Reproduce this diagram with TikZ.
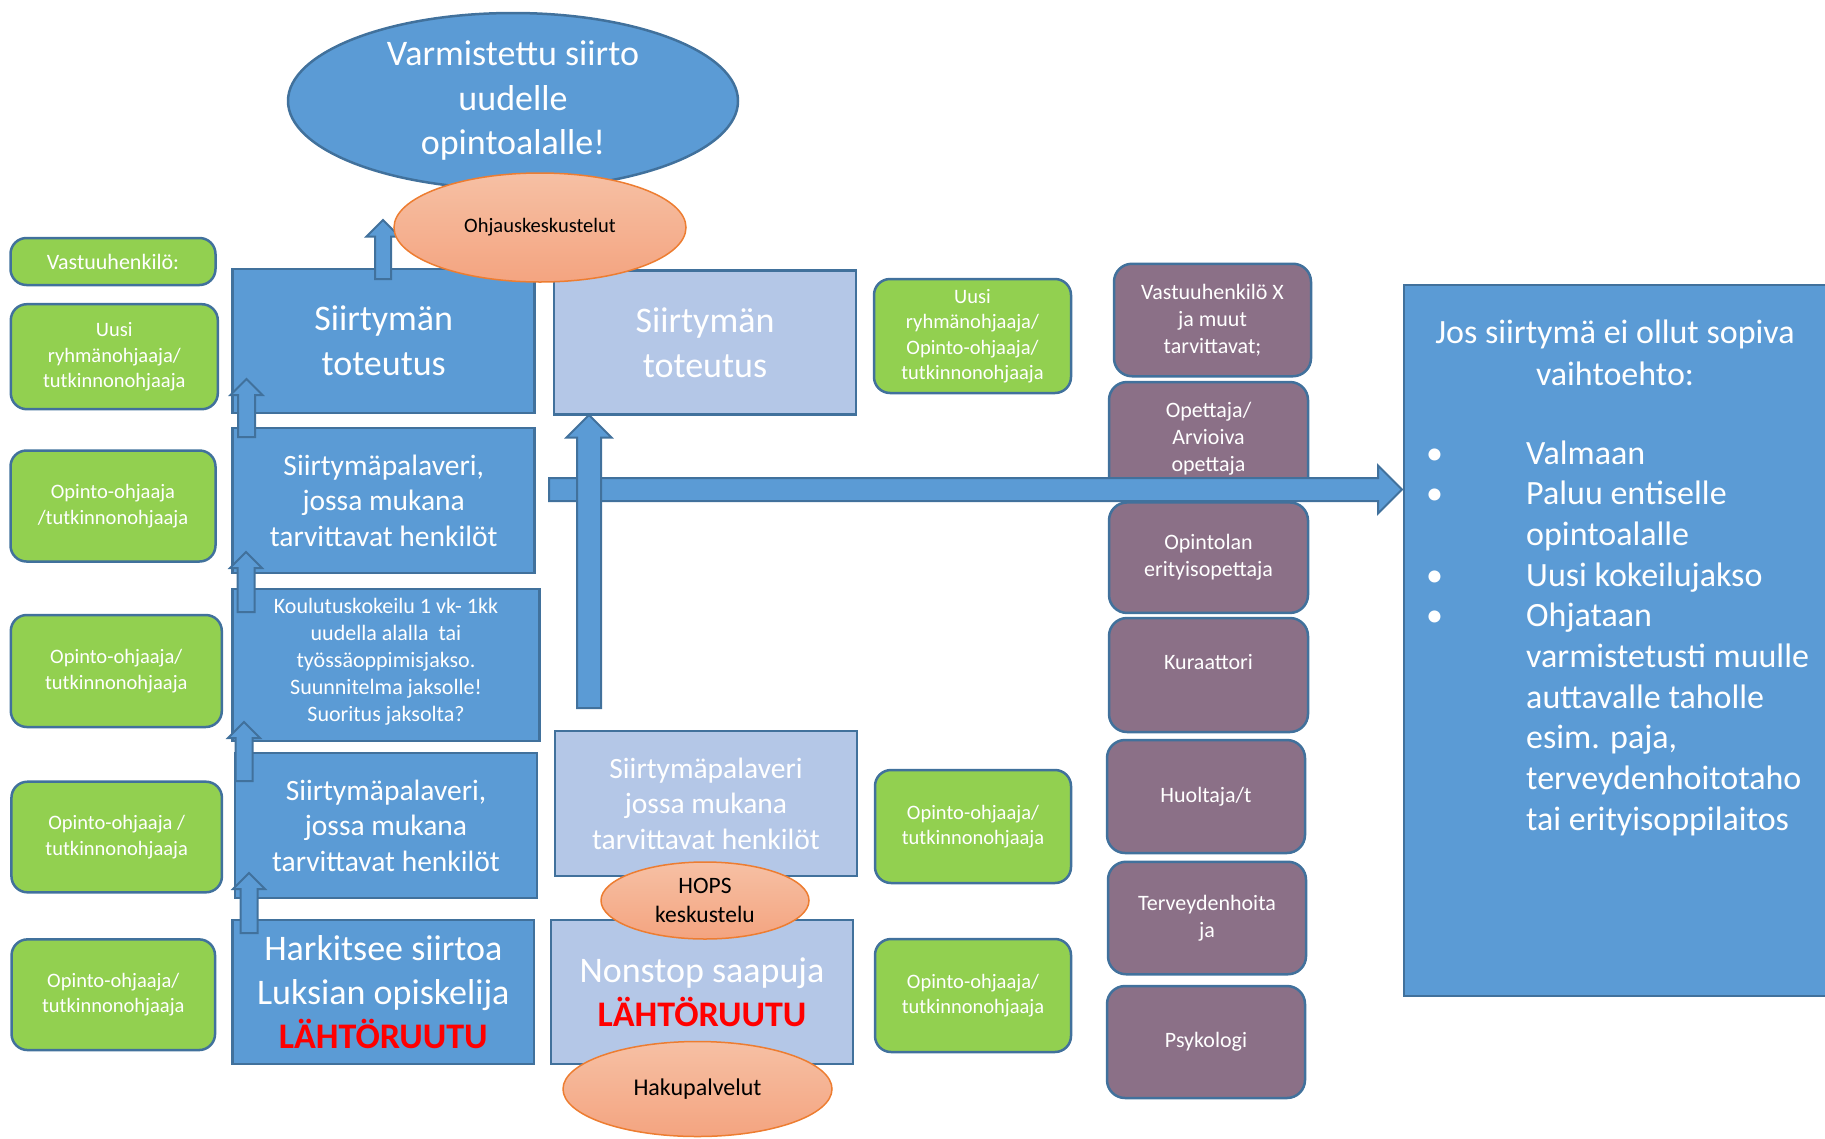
\documentclass[tikz,border=0pt]{standalone}
\usepackage{fontspec}
\setmainfont{Carlito}
\usetikzlibrary{shapes.geometric,shapes.arrows}
\definecolor{accent}{RGB}{91,155,213}
\definecolor{edge}{RGB}{65,113,156}
\definecolor{pale}{RGB}{180,199,231}
\definecolor{leaf}{RGB}{146,208,80}
\definecolor{plum}{RGB}{139,112,135}
\definecolor{peachtop}{RGB}{246,192,164}
\definecolor{peachbot}{RGB}{244,164,128}
\definecolor{peachedge}{RGB}{237,125,49}
\definecolor{lahto}{RGB}{255,0,0}
\newcommand{\fsz}[2]{\fontsize{#1}{#2}\selectfont}
\begin{document}
\begin{tikzpicture}[x=1pt,y=-1pt,
	bluebox/.style={rectangle, draw=edge, fill=accent, line width=2.5pt, text=white, align=center, inner sep=0pt},
	palebox/.style={bluebox, fill=pale},
	greenbox/.style={rectangle, rounded corners=16pt, draw=edge, fill=leaf, line width=2.5pt, text=white, align=center, inner sep=0pt, font=\fsz{20.5}{25.5}},
	plumbox/.style={greenbox, fill=plum, rounded corners=18pt, font=\fsz{22}{27}},
	talk/.style={ellipse, draw=peachedge, top color=peachtop, bottom color=peachbot, line width=1.5pt, align=center, inner sep=0pt, text=black},
	blockarrow/.style={single arrow, draw=edge, fill=accent, line width=2pt, inner xsep=0pt, anchor=tail},
	blockup/.style={blockarrow, rotate=90, inner ysep=7.5pt, single arrow head extend=7.5pt, minimum height=59pt}]
	\useasboundingbox (0,0) rectangle (1825,1138);
	
	\node[ellipse, draw=edge, fill=accent, line width=2.5pt, text=white, align=center, inner sep=0pt, minimum width=450pt, minimum height=176pt, font=\fsz{36}{44.5}] (goal) at (513,101) {Varmistettu siirto\\uudelle\\opintoalalle!};
	
	% vastuuhenkilot vasemmalla
	\node[greenbox, minimum width=205pt, minimum height=47pt, font=\fsz{22}{27}] (resp) at (113,261.5) {Vastuuhenkilö:};
	\node[greenbox, minimum width=207pt, minimum height=105pt] (g1) at (114.3,356.7) {Uusi\\ryhmänohjaaja/\\tutkinnonohjaaja};
	\node[greenbox, minimum width=205pt, minimum height=111pt] (g2) at (113,506) {Opinto-ohjaaja\\/tutkinnonohjaaja};
	\node[greenbox, minimum width=211pt, minimum height=112pt] (g3) at (116.3,671) {Opinto-ohjaaja/\\tutkinnonohjaaja};
	\node[greenbox, minimum width=210.5pt, minimum height=110.6pt] (g4) at (116.7,837) {Opinto-ohjaaja /\\tutkinnonohjaaja};
	\node[greenbox, minimum width=203.5pt, minimum height=110.7pt] (g5) at (113.3,994.7) {Opinto-ohjaaja/\\tutkinnonohjaaja};
	
	% Luksian opiskelija
	\node[bluebox, minimum width=302pt, minimum height=144pt, font=\fsz{36}{45}] (trans) at (383.7,341) {Siirtymän\\toteutus};
	\node[bluebox, minimum width=302pt, minimum height=145pt, font=\fsz{29.5}{35.5}] (meet) at (383.7,500.5) {Siirtymäpalaveri,\\jossa mukana\\tarvittavat henkilöt};
	\node[bluebox, minimum width=307pt, minimum height=152pt, font=\fsz{22}{27}] (trial) at (386,665) {Koulutuskokeilu 1 vk- 1kk\\uudella alalla~ tai\\työssäoppimisjakso.\\Suunnitelma jaksolle!\\Suoritus jaksolta?\\[-17pt]\mbox{}};
	\node[bluebox, minimum width=302pt, minimum height=145pt, font=\fsz{29.5}{35.5}] (premeet) at (386,825.5) {Siirtymäpalaveri,\\jossa mukana\\tarvittavat henkilöt};
	\node[bluebox, minimum width=301.5pt, minimum height=144pt, font=\fsz{36}{44}] (start) at (383.3,992) {Harkitsee siirtoa\\Luksian opiskelija\\{\bfseries\color{lahto}LÄHTÖRUUTU}};
	
	% nonstop
	\node[palebox, minimum width=302pt, minimum height=144pt, font=\fsz{36}{45}] (ntrans) at (705,342.7) {Siirtymän\\toteutus};
	\node[palebox, minimum width=302pt, minimum height=145pt, font=\fsz{29.5}{35.5}] (nmeet) at (706,803.5) {Siirtymäpalaveri\\jossa mukana\\tarvittavat henkilöt};
	\node[palebox, minimum width=302pt, minimum height=144pt, font=\fsz{36}{44}] (nstart) at (702,992) {Nonstop saapuja\\{\bfseries\color{lahto}LÄHTÖRUUTU}};
	
	\node[greenbox, minimum width=197pt, minimum height=114pt] (n1) at (972.5,336) {Uusi\\ryhmänohjaaja/\\Opinto-ohjaaja/\\tutkinnonohjaaja};
	\node[greenbox, minimum width=196pt, minimum height=113pt] (n2) at (973,826.5) {Opinto-ohjaaja/\\tutkinnonohjaaja};
	\node[greenbox, minimum width=196pt, minimum height=113pt] (n3) at (973,995.5) {Opinto-ohjaaja/\\tutkinnonohjaaja};
	
	% tukihenkilot
	\node[plumbox, minimum width=197pt, minimum height=112.5pt] (p1) at (1212.5,320) {Vastuuhenkilö X\\ja muut\\tarvittavat;};
	\node[plumbox, minimum width=199pt, minimum height=113pt] (p2) at (1208.5,438.5) {Opettaja/\\Arvioiva\\opettaja};
	\node[plumbox, minimum width=199pt, minimum height=110.5pt] (p3) at (1208.5,557.7) {Opintolan\\erityisopettaja};
	\node[plumbox, minimum width=199pt, minimum height=114pt] (p4) at (1208.5,675) {Kuraattori\\\mbox{}};
	\node[plumbox, minimum width=198pt, minimum height=113pt] (p5) at (1206,796.5) {Huoltaja/t};
	\node[plumbox, minimum width=198pt, minimum height=112.5pt] (p6) at (1207,918) {Terveydenhoita\\ja};
	\node[plumbox, minimum width=198pt, minimum height=112pt] (p7) at (1206,1042) {Psykologi};
	
	% vaihtoehdot
	\node[bluebox, minimum width=426pt, minimum height=711pt] (alt) at (1617,640.5) {};
	\node[text=white, align=center, inner sep=0pt, font=\fsz{34}{42}] (alttitle) at (1615,353) {Jos siirtymä ei ollut sopiva\\vaihtoehto:};
	\foreach \line [count=\k from 0] in {Valmaan, Paluu entiselle, opintoalalle, Uusi kokeilujakso, Ohjataan, varmistetusti muulle, auttavalle taholle, {esim. paja,}, terveydenhoitotaho, tai erityisoppilaitos}
		\node[anchor=base west, inner sep=0pt, text=white, font=\fsz{34}{41}] (opt\k) at (1526,{464+40.67*\k}) {\line};
	\foreach \k in {0,1,3,4}
		\node[anchor=base west, inner sep=0pt, text=white, font=\fsz{34}{41}] (dot\k) at (1426,{464+40.67*\k}) {\textbullet};
	
	% nuolet
	\node[blockarrow, inner ysep=10.5pt, single arrow head extend=12.5pt, minimum height=853pt] (out) at (548,489.5) {};
	\node[blockarrow, rotate=90, inner ysep=11pt, single arrow head extend=10.5pt, minimum height=293pt] (rise) at (589,709) {};
	\node[blockup, inner ysep=7pt, single arrow head extend=8.5pt] (up0) at (383,280) {};
	\node[blockup, minimum height=58pt] (up1) at (246.5,438) {};
	\node[blockup, minimum height=60pt] (up2) at (246,613) {};
	\node[blockup] (up3) at (244,782) {};
	\node[blockup, minimum height=60pt] (up4) at (249,934) {};
	
	\node[talk, minimum width=292pt, minimum height=109pt, font=\fsz{20.5}{25}] (guide) at (540,227.5) {Ohjauskeskustelut};
	\node[talk, minimum width=208pt, minimum height=77pt, font=\fsz{23.5}{28.7}] (hops) at (705,900.5) {HOPS\\keskustelu};
	\node[talk, minimum width=269pt, minimum height=95pt, font=\fsz{24}{29}] (haku) at (697.5,1089) {Hakupalvelut};
\end{tikzpicture}
\end{document}
